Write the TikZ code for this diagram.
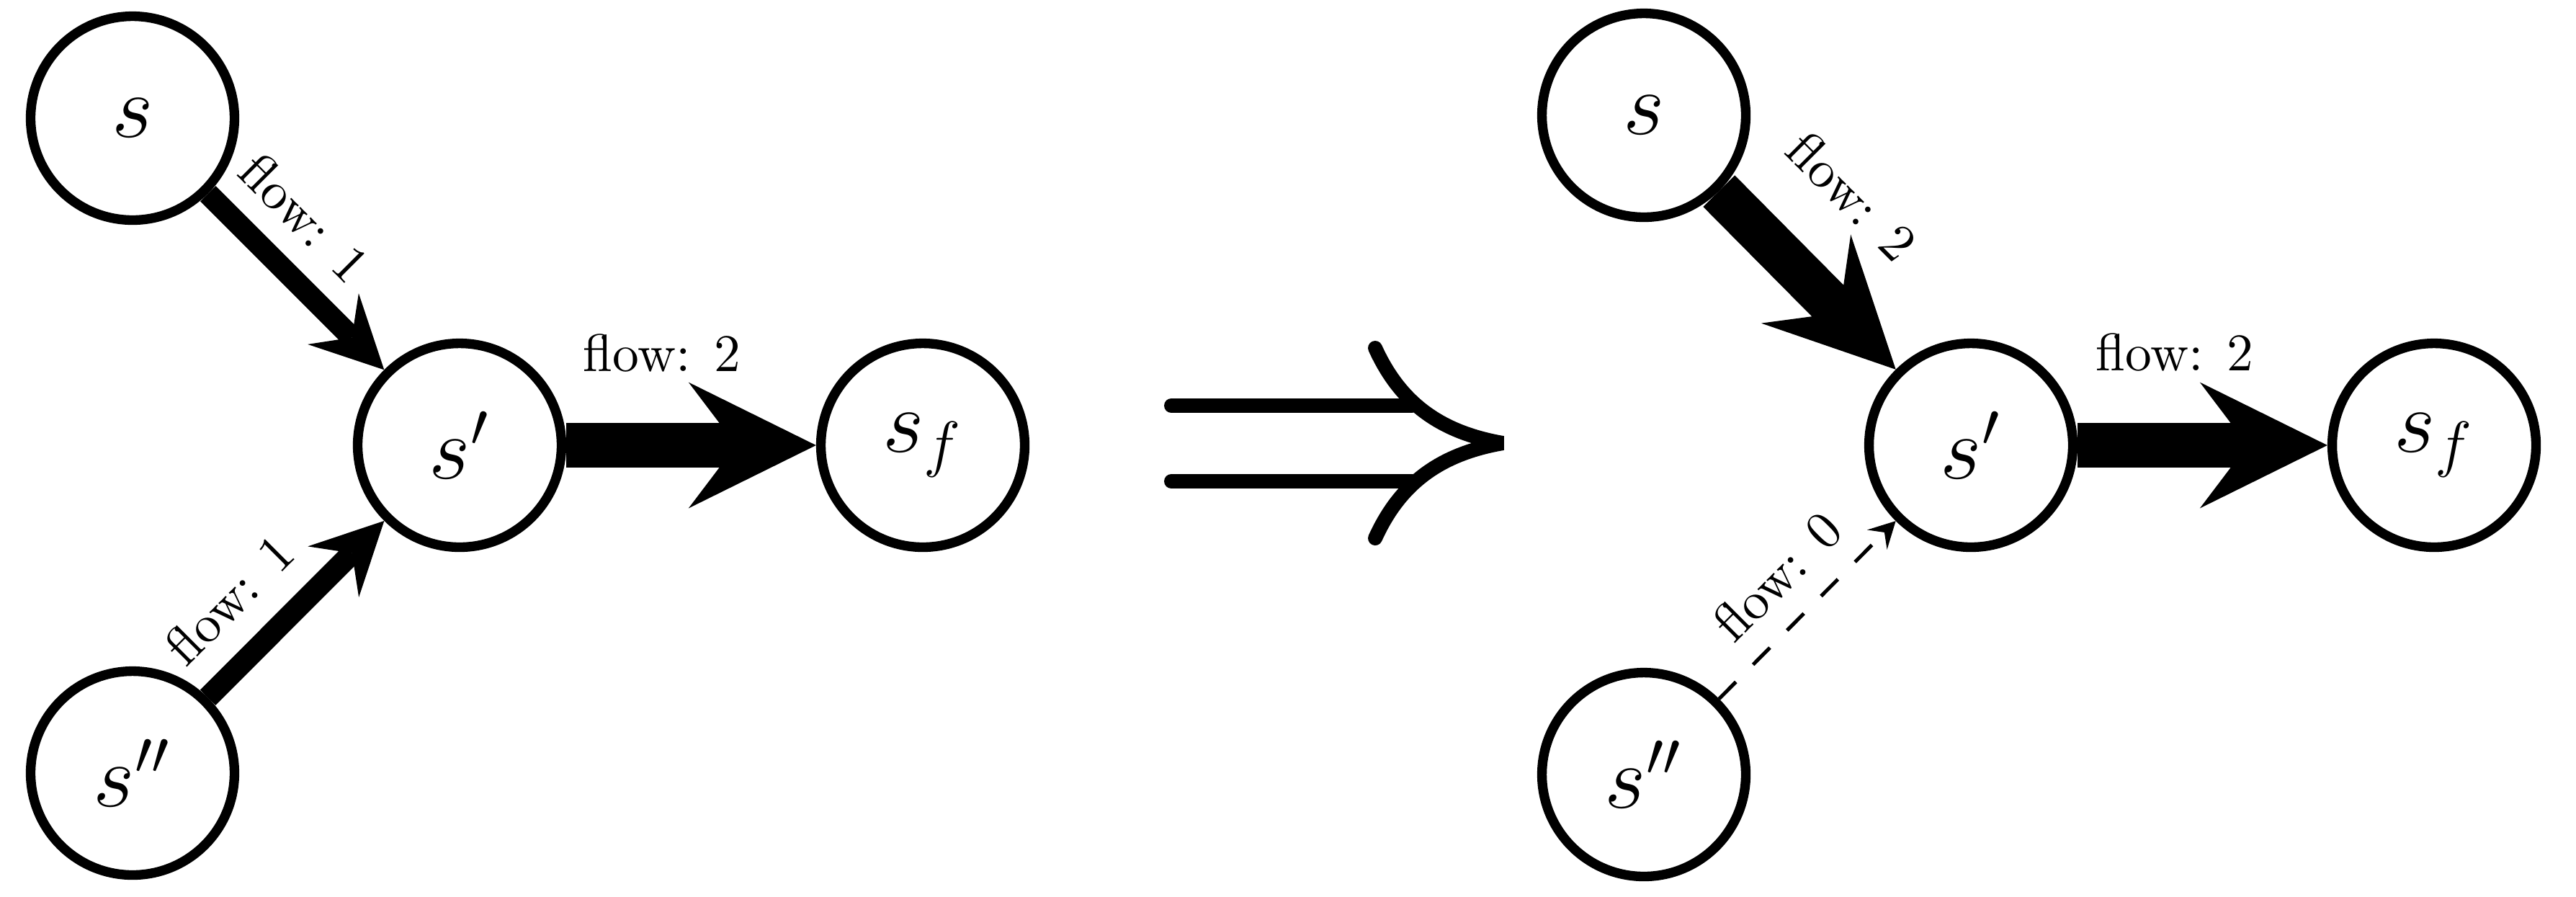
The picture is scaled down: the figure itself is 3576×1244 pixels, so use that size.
\documentclass[tikz,border=0pt]{standalone}
\usetikzlibrary{arrows.meta}
\begin{document}
\begin{tikzpicture}[x=0.1389pt, y=-0.1389pt,
  state/.style={circle, draw, line width=1.85pt, minimum size=39.3pt, inner sep=0pt, font=\LARGE},
  lbl/.style={font=\fontsize{10.2}{12}\selectfont, inner sep=0pt},
  flowtwo/.style={line width=8.6pt, -{Stealth[length=24.6pt, width=24.3pt, inset=9.2pt, line width=0pt]}},
  flowone/.style={line width=4.2pt, -{Stealth[length=13.9pt, width=13.9pt, inset=5.1pt, line width=0pt]}},
  flowzero/.style={line width=0.7pt, dash pattern=on 4.6pt off 4.7pt, -{Stealth[length=5.1pt, width=5.4pt, inset=2pt, line width=0pt]}},
  impl/.style={line width=2.78pt, line cap=round},
]
\useasboundingbox (0,0) rectangle (3576,1244);

% left graph
\node[state] (s)   at (184,164)  {$s$};
\node[state] (sp)  at (638,618)  {$s'$};
\node[state] (spp) at (184,1073) {$s''$};
\node[state] (sf)  at (1281,618) {$s_f$};

\draw[flowone] (s) -- (sp);
\draw[flowone] (spp) -- (sp);
\draw[flowtwo] (sp) -- (sf);

\node[lbl, rotate=-45] (l1) at (423,302) {flow: 1};
\node[lbl, rotate=45]  (l2) at (318,832) {flow: 1};
\node[lbl, anchor=base] (l3) at (919,515) {flow: 2};

% implies symbol
\draw[impl] (1626,563) -- (1960,563);
\draw[impl] (1626,668) -- (1960,668);
\draw[impl, line join=bevel] (1909,483) .. controls (1944,560) and (2000,600) .. (2086,615)
  .. controls (2000,630) and (1944,670) .. (1909,747);

% right graph
\node[state] (rs)   at (2282,160)  {$s$};
\node[state] (rsp)  at (2736,618)  {$s'$};
\node[state] (rspp) at (2282,1075) {$s''$};
\node[state] (rsf)  at (3379,618)  {$s_f$};

\draw[flowtwo] (rs) -- (rsp);
\draw[flowzero] (rspp) -- (rsp);
\draw[flowtwo] (rsp) -- (rsf);

\node[lbl, rotate=-45] (r1) at (2571,272) {flow: 2};
\node[lbl, rotate=45]  (r2) at (2467,800) {flow: 0};
\node[lbl, anchor=base] (r3) at (3019,514) {flow: 2};
\end{tikzpicture}
\end{document}
